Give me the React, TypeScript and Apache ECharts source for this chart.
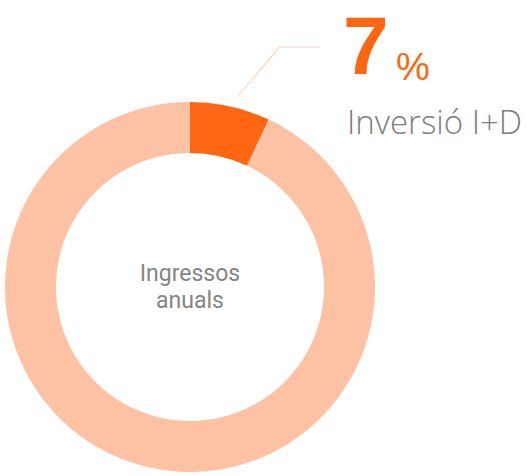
import React, { useEffect, useRef } from "react";
import * as echarts from "echarts";

const categories = ["Inversió I+D", "Ingressos anuals"];
const values = [7, 93];
const colors = ["#ff6611", "#fdc2a4"];
const centerLabel = "Ingressos\nanuals";
const highlightUnit = "%";

export default function App() {
  const ref = useRef<HTMLDivElement>(null);
  useEffect(() => {
    document.body.style.margin = "0";
    if (!ref.current) return;
    const chart = echarts.init(ref.current, undefined, { renderer: "svg" });
    const cx = 190;
    const cy = 287;
    const rOuter = 185;
    const rInner = 134;
    const total = values.reduce((a, b) => a + b, 0);
    const midAngle = ((values[0] / total) * 360) / 2; // degrees from 12 o'clock, clockwise
    const rad = (midAngle * Math.PI) / 180;
    const p0 = [cx + 5 + (rOuter + 10) * Math.sin(rad), cy - (rOuter + 10) * Math.cos(rad)];
    const p1 = [p0[0] + 42, 47];
    const p2 = [p1[0] + 40, 47];

    chart.setOption({
      animation: false,
      series: [
        {
          type: "pie",
          center: [cx, cy],
          radius: [rInner, rOuter],
          startAngle: 90,
          clockwise: true,
          silent: true,
          label: { show: false },
          labelLine: { show: false },
          data: categories.map((name, i) => ({
            name,
            value: values[i],
            itemStyle: { color: colors[i] },
            label:
              i === 1
                ? {
                    show: true,
                    position: "center",
                    formatter: centerLabel,
                    fontFamily: "Roboto, Arial, sans-serif",
                    fontSize: 23,
                    lineHeight: 27,
                    color: "#858585",
                  }
                : { show: false },
          })),
        },
      ],
      graphic: [
        {
          type: "polyline",
          shape: { points: [p0, p1, p2] },
          style: { stroke: "#f6d9c9", lineWidth: 1.2, fill: null },
          silent: true,
        },
        {
          type: "text",
          x: 343,
          y: 86,
          style: {
            text: String(values[0]),
            fontFamily: "Liberation Sans, Arial, sans-serif",
            fontWeight: "bold",
            fontSize: 82,
            fill: colors[0],
            align: "left",
            verticalAlign: "bottom",
          },
        },
        {
          type: "text",
          x: 396,
          y: 86,
          style: {
            text: highlightUnit,
            fontFamily: "Liberation Sans, Arial, sans-serif",
            fontSize: 38,
            fill: colors[0],
            align: "left",
            verticalAlign: "bottom",
          },
        },
        {
          type: "text",
          x: 347,
          y: 121,
          style: {
            text: categories[0],
            fontFamily: "Open Sans, Noto Sans, sans-serif",
            fontWeight: 300,
            fontSize: 33,
            fill: "#7d7d7d",
            align: "left",
            verticalAlign: "middle",
          },
        },
      ],
    });
    return () => chart.dispose();
  }, []);
  return <div ref={ref} style={{ width: 528, height: 476 }} />;
}
